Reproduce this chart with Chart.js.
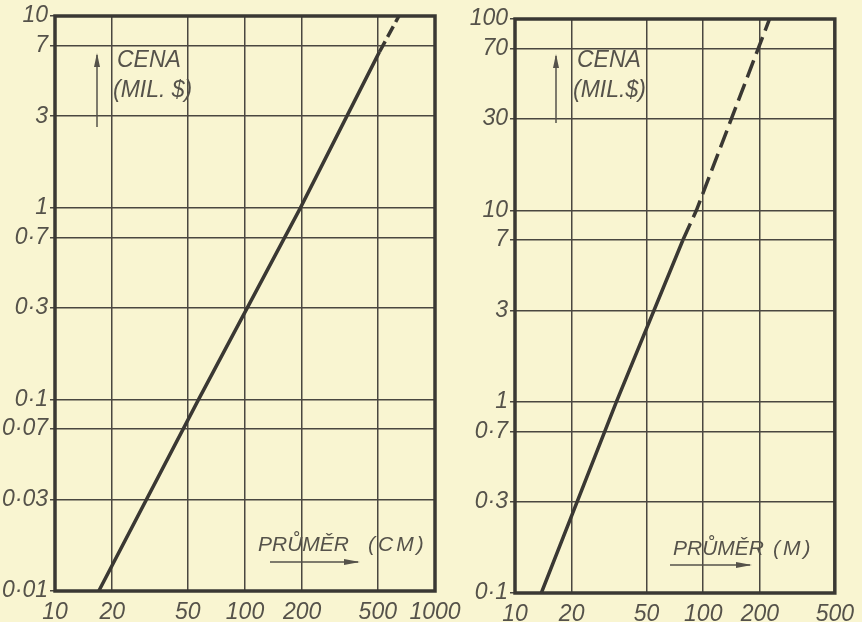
<!DOCTYPE html>
<html>
<head>
<meta charset="utf-8">
<script src="https://cdn.jsdelivr.net/npm/chart.js@4"></script>
<style>
  html, body { margin: 0; padding: 0; background: #f9f5d1; }
  #wrap { position: relative; width: 862px; height: 622px; overflow: hidden; }
  .box { position: absolute; top: 0; height: 622px; }
</style>
</head>
<body>
<div id="wrap">
  <div class="box" style="left:0;width:470px"><canvas id="leftChart"></canvas></div>
  <div class="box" style="left:440px;width:422px"><canvas id="rightChart"></canvas></div>
</div>
<script>
'use strict';

// ***** DATA *****
// left: diameter in cm vs price (mil. $)
let leftXTicks = [10, 20, 50, 100, 200, 500, 1000];
let leftYTicks = [0.01, 0.03, 0.07, 0.1, 0.3, 0.7, 1, 3, 7, 10];
let leftSolidX = [17, 57, 196, 510];
let leftSolidY = [0.01, 0.1, 1, 6.5];
let leftDashX = [510, 646];
let leftDashY = [6.5, 10];

// right: diameter in m vs price (mil. $)
let rightXTicks = [10, 20, 50, 100, 200, 500];
let rightYTicks = [0.1, 0.3, 0.7, 1, 3, 7, 10, 30, 70, 100];
let rightSolidX = [13.8, 34.6, 78];
let rightSolidY = [0.1, 1, 7];
let rightDashX = [78, 92, 225];
let rightDashY = [7, 10, 100];

// ***** STYLE *****
let ink = '#3a3833';
let gridInk = '#4a4740';
let textInk = '#55524a';
let tickFont = { family: 'Liberation Sans', size: 23, style: 'italic' };

function toPoints(xs, ys){
  let pts = [];
  for(let i = 0; i < xs.length; i++){
    pts.push({ x: xs[i], y: ys[i] });
  }
  return pts;
}

function fmt(v){
  return String(v).replace('.', '·');
}

// frame + hand lettered labels
let framePlugin = {
  id: 'frame',
  afterDraw(chart, args, opts){
    let c = chart.ctx;
    let a = chart.chartArea;
    c.save();
    c.strokeStyle = ink;
    c.lineWidth = 3.5;
    c.strokeRect(a.left, a.top, a.right - a.left, a.bottom - a.top);

    c.fillStyle = textInk;
    c.strokeStyle = textInk;
    c.font = 'italic 23px "Liberation Sans"';
    c.textBaseline = 'alphabetic';
    c.textAlign = 'left';
    c.fillText('CENA', opts.cena[0], opts.cena[1]);
    c.fillText(opts.mil, opts.cena[0] - 4, opts.cena[1] + 30);

    // up arrow
    c.lineWidth = 1.5;
    c.beginPath();
    c.moveTo(opts.upArrow[0], opts.upArrow[2]);
    c.lineTo(opts.upArrow[0], opts.upArrow[1]);
    c.stroke();
    c.beginPath();
    c.moveTo(opts.upArrow[0], opts.upArrow[1] - 2);
    c.lineTo(opts.upArrow[0] - 3, opts.upArrow[1] + 12);
    c.lineTo(opts.upArrow[0] + 3, opts.upArrow[1] + 12);
    c.closePath();
    c.fill();

    // x title
    c.font = 'italic 21px "Liberation Sans"';
    c.fillText('PRŮMĚR', opts.prumer[0], opts.prumer[1]);
    c.letterSpacing = '3px';
    c.fillText(opts.unit, opts.unitX, opts.prumer[1]);
    c.letterSpacing = '0px';

    // right arrow
    c.beginPath();
    c.moveTo(opts.rightArrow[0], opts.rightArrow[2]);
    c.lineTo(opts.rightArrow[1], opts.rightArrow[2]);
    c.stroke();
    c.beginPath();
    c.moveTo(opts.rightArrow[1] + 2, opts.rightArrow[2]);
    c.lineTo(opts.rightArrow[1] - 14, opts.rightArrow[2] - 3);
    c.lineTo(opts.rightArrow[1] - 14, opts.rightArrow[2] + 3);
    c.closePath();
    c.fill();
    c.restore();
  }
};

function makeChart(canvasId, cfg){
  let chartObj = {
    type: 'line',
    data: {
      datasets: [{
        data: toPoints(cfg.solidX, cfg.solidY),
        borderColor: ink,
        borderWidth: 3.5,
        pointRadius: 0,
        tension: 0
      },
      {
        data: toPoints(cfg.dashX, cfg.dashY),
        borderColor: ink,
        borderWidth: 3.5,
        borderDash: cfg.dash,
        pointRadius: 0,
        tension: 0
      }]
    },
    options: {
      responsive: true,
      maintainAspectRatio: false,
      animation: false,
      layout: { padding: { top: cfg.padTop, right: cfg.padRight, left: 0, bottom: 0 } },
      plugins: {
        legend: { display: false },
        tooltip: { enabled: false },
        frame: cfg.labels
      },
      scales: {
        x: {
          type: 'logarithmic',
          min: cfg.xTicks[0],
          max: cfg.xTicks[cfg.xTicks.length - 1],
          afterBuildTicks: function(axis){ axis.ticks = cfg.xTicks.map(v => ({ value: v })); },
          afterFit: function(axis){ axis.height = cfg.xAxisH; },
          ticks: { autoSkip: false, maxRotation: 0, padding: 8, color: textInk, font: tickFont, callback: v => fmt(v) },
          grid: { color: gridInk, lineWidth: 1.5, drawTicks: false },
          border: { display: false }
        },
        y: {
          type: 'logarithmic',
          min: cfg.yTicks[0],
          max: cfg.yTicks[cfg.yTicks.length - 1],
          afterBuildTicks: function(axis){ axis.ticks = cfg.yTicks.map(v => ({ value: v })); },
          afterFit: function(axis){ axis.width = cfg.yAxisW; },
          ticks: { autoSkip: false, padding: 2, color: textInk, font: tickFont, callback: v => fmt(v) },
          grid: { color: gridInk, lineWidth: 1.5, tickLength: 5 },
          border: { display: false }
        }
      }
    },
    plugins: [framePlugin]
  };
  return new Chart(document.getElementById(canvasId), chartObj);
}

// **** EXECUTABLE CODE *****
makeChart('leftChart', {
  solidX: leftSolidX, solidY: leftSolidY, dashX: leftDashX, dashY: leftDashY,
  xTicks: leftXTicks, yTicks: leftYTicks, dash: [12, 5],
  padTop: 16, padRight: 35, xAxisH: 31, yAxisW: 55,
  labels: {
    cena: [117, 67], mil: '(MIL. $)', upArrow: [97, 55, 127],
    prumer: [258, 551], unit: '(CM)', unitX: 368, rightArrow: [270, 358, 562]
  }
});

makeChart('rightChart', {
  solidX: rightSolidX, solidY: rightSolidY, dashX: rightDashX, dashY: rightDashY,
  xTicks: rightXTicks, yTicks: rightYTicks, dash: [18, 7],
  padTop: 19, padRight: 20, xAxisH: 29, yAxisW: 75,
  labels: {
    cena: [137, 67], mil: '(MIL.$)', upArrow: [116, 56, 123],
    prumer: [233, 555], unit: '(M)', unitX: 333, rightArrow: [230, 310, 565]
  }
});
</script>
</body>
</html>
